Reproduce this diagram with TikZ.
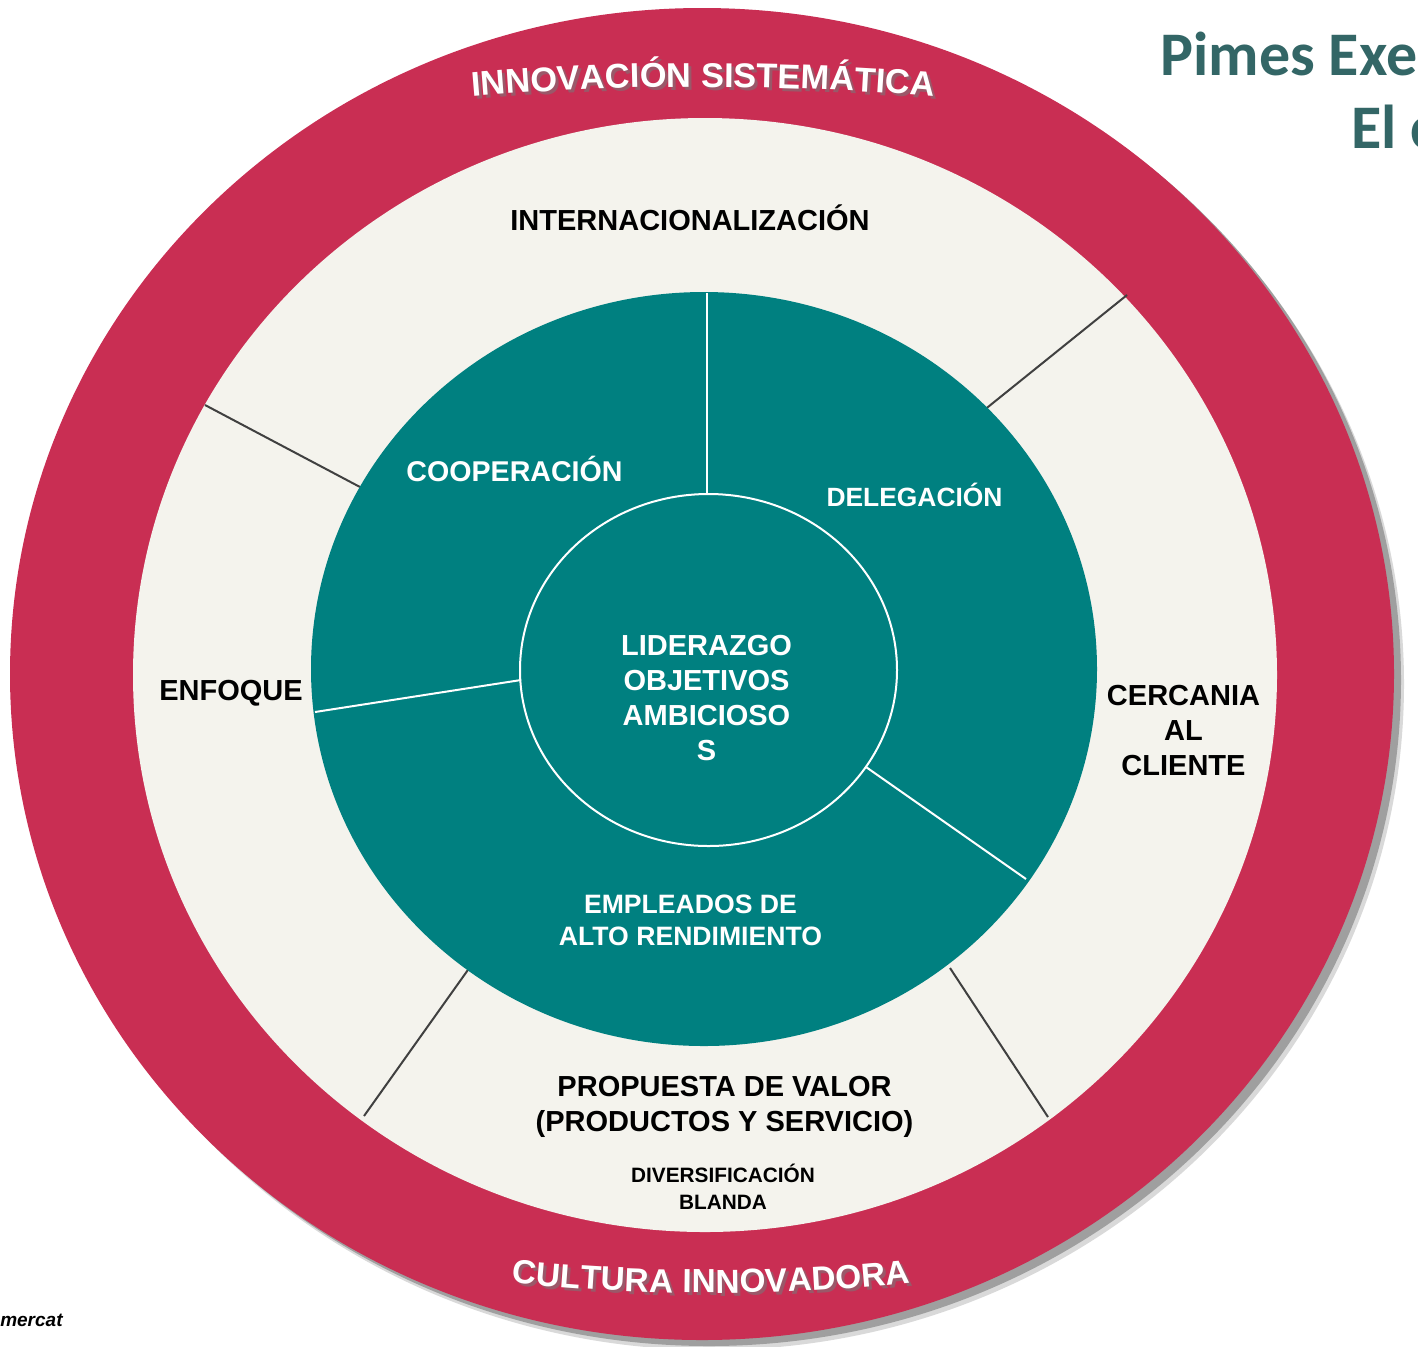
\documentclass[tikz,border=0pt]{standalone}
\usepackage{fontspec}
\setmainfont{Liberation Sans}
\newfontfamily\titlefont{Carlito}
\usetikzlibrary{decorations.text}
\definecolor{ringred}{HTML}{C92E53}
\definecolor{ringbeige}{HTML}{F4F3ED}
\definecolor{ringteal}{HTML}{008080}
\definecolor{divgray}{HTML}{404040}
\definecolor{titleteal}{HTML}{336666}
\definecolor{shadowred}{HTML}{6E1028}
\newcommand\arcfont{\fontsize{17.2}{20}\selectfont\bfseries}
\newcommand\arcfontb{\fontsize{16.7}{20}\selectfont\bfseries}
\begin{document}
\begin{tikzpicture}[x=0.5pt,y=-0.5pt,
  lab/.style={inner sep=0pt, anchor=base, font=\bfseries\fontsize{14.5}{17}\selectfont},
  darklab/.style={lab, text=black},
  whitelab/.style={lab, text=white},
  divider/.style={draw=divgray, line width=1pt},
  wdivider/.style={draw=white, line width=1pt}]
\clip (0,0) rectangle (1418,1346);
\fill[white] (0,0) rectangle (1418,1346);
% shadow of the outer ring
\fill[gray!30] (712,684) ellipse [x radius=346pt, y radius=333pt];
\fill[gray!75] (709,680) ellipse [x radius=346pt, y radius=333pt];
% rings
\fill[ringred] (702,674) ellipse [x radius=346pt, y radius=333pt];
\fill[ringbeige] (705,675) ellipse [x radius=286pt, y radius=278.5pt];
% dividers of the beige ring
\coordinate (d1a) at (205,405); \coordinate (d1b) at (360,487);
\coordinate (d2a) at (1127,295); \coordinate (d2b) at (983,411);
\coordinate (d3a) at (1048,1117); \coordinate (d3b) at (950,968);
\coordinate (d4a) at (364,1116); \coordinate (d4b) at (470,967);
\draw[divider] (d1a) -- (d1b);
\draw[divider] (d2a) -- (d2b);
\draw[divider] (d3a) -- (d3b);
\draw[divider] (d4a) -- (d4b);
% teal disc
\fill[ringteal] (704,669) ellipse [x radius=196.5pt, y radius=188.5pt];
\draw[white, line width=1pt] (708.5,670) ellipse [x radius=94.25pt, y radius=88pt];
% white dividers
\coordinate (w1a) at (707,293); \coordinate (w1b) at (707,494);
\coordinate (w2a) at (315,712); \coordinate (w2b) at (521,680);
\coordinate (w3a) at (866,767); \coordinate (w3b) at (1026,879);
\draw[wdivider] (w1a) -- (w1b);
\draw[wdivider] (w2a) -- (w2b);
\draw[wdivider] (w3a) -- (w3b);
% curved ring labels (shadow, then text)
\path[decorate, decoration={text along path, text align=center,
  text={|\arcfont\color{shadowred!70}|INNOVACIÓN SISTEMÁTICA}}]
  (471,100) .. controls (626,86.7) and (786,86.7) .. (941,100);
\path[decorate, decoration={text along path, text align=center,
  text={|\arcfont\color{white}|INNOVACIÓN SISTEMÁTICA}}]
  (468,97) .. controls (623,83.7) and (783,83.7) .. (938,97);
\path[decorate, decoration={text along path, text align=center,
  text={|\arcfontb\color{shadowred!70}|CULTURA INNOVADORA}}]
  (509,1285) .. controls (644,1299.7) and (784,1299.7) .. (919,1285);
\path[decorate, decoration={text along path, text align=center,
  text={|\arcfontb\color{white}|CULTURA INNOVADORA}}]
  (506,1282) .. controls (641,1296.7) and (781,1296.7) .. (916,1282);
% beige ring labels
\node[darklab] (intl) at (690,230.5) {INTERNACIONALIZACIÓN};
\node[darklab] (enf) at (231,700) {ENFOQUE};
\node[darklab] (cer1) at (1183.5,705) {CERCANIA};
\node[darklab] (cer2) at (1183.5,740) {AL};
\node[darklab] (cer3) at (1183.5,775) {CLIENTE};
\node[darklab] (prop1) at (724.5,1096) {PROPUESTA DE VALOR};
\node[darklab] (prop2) at (724.5,1131) {(PRODUCTOS Y SERVICIO)};
\node[darklab, font=\bfseries\fontsize{10.4}{12}\selectfont] (div1) at (723,1182.5) {DIVERSIFICACIÓN};
\node[darklab, font=\bfseries\fontsize{10.4}{12}\selectfont] (div2) at (723,1209.5) {BLANDA};
% teal labels
\node[whitelab, font=\bfseries\fontsize{14.3}{17}\selectfont] (coop) at (514.5,481) {COOPERACIÓN};
\node[whitelab, font=\bfseries\fontsize{13.2}{16}\selectfont] (deleg) at (914.5,506.5) {DELEGACIÓN};
\node[whitelab] (lid1) at (706.5,655) {LIDERAZGO};
\node[whitelab] (lid2) at (706.5,690) {OBJETIVOS};
\node[whitelab] (lid3) at (706.5,725) {AMBICIOSO};
\node[whitelab] (lid4) at (706.5,760) {S};
\node[whitelab, font=\bfseries\fontsize{13.3}{16}\selectfont] (emp1) at (690.5,913.5) {EMPLEADOS DE};
\node[whitelab, font=\bfseries\fontsize{13.3}{16}\selectfont] (emp2) at (690.5,945.5) {ALTO RENDIMIENTO};
% title (cut by the page edge, as in the source) and source note
\node[anchor=base west, inner sep=0pt, text=titleteal, font=\titlefont\bfseries\fontsize{31}{37}\selectfont] (title1) at (1160,75) {Pimes Exe};
\node[anchor=base west, inner sep=0pt, text=titleteal, font=\titlefont\bfseries\fontsize{31}{37}\selectfont] (title2) at (1351,148) {El c};
\node[anchor=base east, inner sep=0pt, font=\bfseries\itshape\fontsize{9.5}{11}\selectfont] (src) at (63,1326) {mercat};
\end{tikzpicture}
\end{document}
